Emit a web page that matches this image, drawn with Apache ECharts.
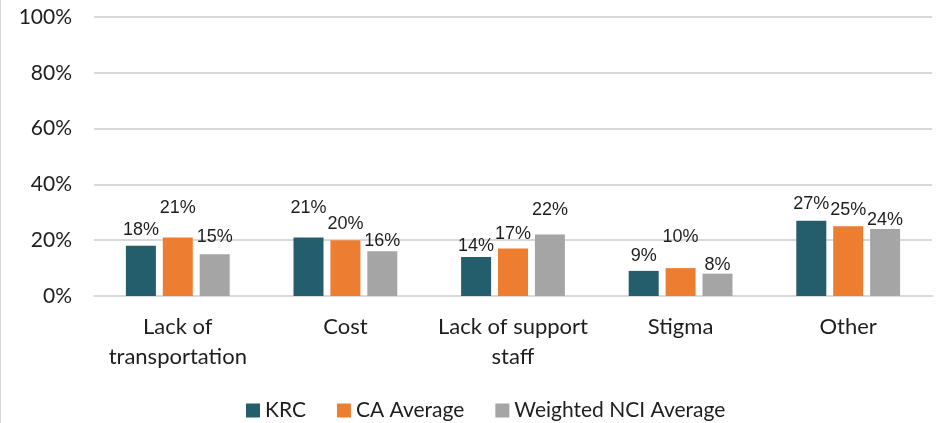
<!DOCTYPE html>
<html>
<head>
<meta charset="utf-8">
<script src="https://cdn.jsdelivr.net/npm/echarts@6/dist/echarts.min.js"></script>
<style>
  html, body { margin: 0; padding: 0; background: #fff; }
  #chart { width: 936px; height: 423px; border-left: 1px solid #d9d9d9; }
</style>
</head>
<body>
<div id="chart"></div>
<script>
// Barriers to participation, share of respondents (%)
const categories = ['Lack of\ntransportation', 'Cost', 'Lack of support\nstaff', 'Stigma', 'Other'];
const seriesNames = ['KRC', 'CA Average', 'Weighted NCI Average'];
const krc = [18, 21, 14, 9, 27];
const caAverage = [21, 20, 17, 10, 25];
const nciAverage = [15, 16, 22, 8, 24];
const yTicks = [0, 20, 40, 60, 80, 100];

// Label spacing above each bar (px), staggered so neighbouring labels don't collide
const labelRaise = [
  [7, 20, 2, 6, 8],
  [20, 7, 6, 22, 7],
  [8, 1, 16, 0, 0]
];
const colors = ['#245d6c', '#ed7d31', '#a5a5a5'];

const valueFont = '"Liberation Sans", Arial, sans-serif';
const textFont = 'Lato, "Open Sans", sans-serif';

const seriesData = [krc, caAverage, nciAverage];
const series = seriesData.map((vals, s) => ({
  name: seriesNames[s],
  type: 'bar',
  barWidth: 30,
  barGap: '23%',
  itemStyle: { color: colors[s] },
  data: vals.map((v, i) => ({
    value: v,
    label: { distance: labelRaise[s][i] }
  })),
  label: {
    show: true,
    position: 'top',
    formatter: p => p.value + '%',
    fontFamily: valueFont,
    fontSize: 18,
    color: '#1e1e1e'
  }
}));

const chart = echarts.init(document.getElementById('chart'), null, { renderer: 'canvas' });
chart.setOption({
  animation: false,
  color: colors,
  grid: { left: 93, right: 5, top: 17, bottom: 127, containLabel: false },
  legend: {
    data: seriesNames,
    top: 395,
    left: 240,
    itemWidth: 14,
    itemHeight: 14,
    itemGap: 31,
    icon: 'rect',
    textStyle: { fontFamily: textFont, fontSize: 21, color: '#1e1e1e' }
  },
  xAxis: {
    type: 'category',
    data: categories,
    axisLine: { show: true, lineStyle: { color: '#d9d9d9', width: 2 } },
    axisTick: { show: false },
    axisLabel: {
      fontFamily: textFont,
      fontSize: 22,
      color: '#1e1e1e',
      lineHeight: 30,
      margin: 16,
      interval: 0
    }
  },
  yAxis: {
    type: 'value',
    min: yTicks[0],
    max: yTicks[yTicks.length - 1],
    interval: yTicks[1] - yTicks[0],
    axisLine: { show: false },
    axisTick: { show: false },
    splitLine: { lineStyle: { color: '#d9d9d9', width: 2 } },
    axisLabel: {
      formatter: v => v + '%',
      fontFamily: textFont,
      fontSize: 21,
      color: '#1e1e1e',
      margin: 22
    }
  },
  series: series
});
</script>
</body>
</html>
